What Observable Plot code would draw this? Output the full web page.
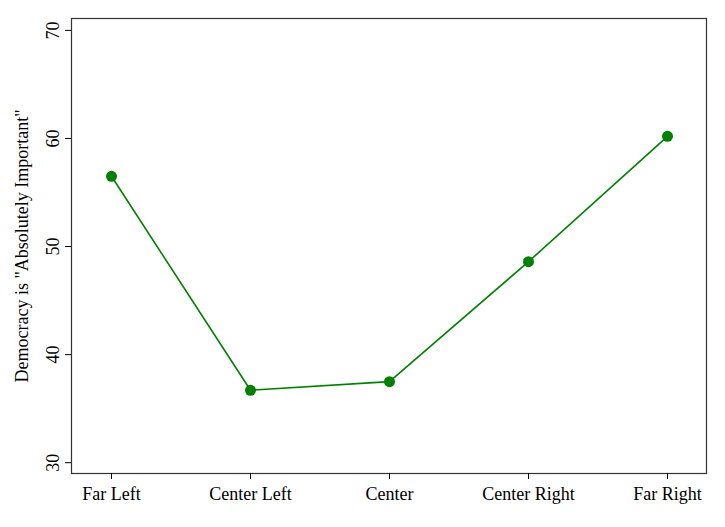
<!DOCTYPE html>
<html>
<head>
<meta charset="utf-8">
<script src="https://cdn.jsdelivr.net/npm/d3@7"></script>
<script src="https://cdn.jsdelivr.net/npm/@observablehq/plot@0.6"></script>
<style>
  html, body { margin: 0; padding: 0; background: #fff; }
  svg { display: block; }
</style>
</head>
<body>
<div id="chart"></div>
<script>
const categories = ["Far Left", "Center Left", "Center", "Center Right", "Far Right"];
const values = [56.5, 36.7, 37.5, 48.6, 60.2];
const yTicks = [30, 40, 50, 60, 70];
const yLabel = "Democracy is \"Absolutely Important\"";

const data = categories.map((c, i) => ({cat: c, val: values[i]}));
const green = "#008000";
const font = "Liberation Serif, Times New Roman, serif";

const chart = Plot.plot({
  width: 725,
  height: 527,
  marginLeft: 71,
  marginRight: 19,
  marginTop: 18,
  marginBottom: 54,
  style: {fontFamily: font, fontSize: "18px", color: "#000", background: "#fff"},
  x: {type: "point", domain: categories, padding: 0.284, axis: null},
  y: {domain: [29, 71.1], axis: null},
  marks: [
    Plot.frame({stroke: "#333", strokeWidth: 1.2}),
    Plot.axisX({tickSize: 6, tickPadding: 8, fontSize: 18, label: null, stroke: "#000"}),
    Plot.axisY({ticks: yTicks, tickSize: 6, tickFormat: () => "", label: null, stroke: "#000"}),
    Plot.text(yTicks, {y: d => d, frameAnchor: "left", dx: -13, rotate: -90, textAnchor: "middle", lineAnchor: "bottom", text: d => String(d), fontSize: 18, fill: "#000"}),
    Plot.text([yLabel], {frameAnchor: "left", dx: -44, rotate: -90, textAnchor: "middle", lineAnchor: "bottom", text: d => d, fontSize: 18, fill: "#000"}),
    Plot.line(data, {x: "cat", y: "val", stroke: green, strokeWidth: 1.6}),
    Plot.dot(data, {x: "cat", y: "val", r: 5.5, fill: green, stroke: "none"})
  ]
});
document.getElementById("chart").appendChild(chart);
</script>
</body>
</html>
